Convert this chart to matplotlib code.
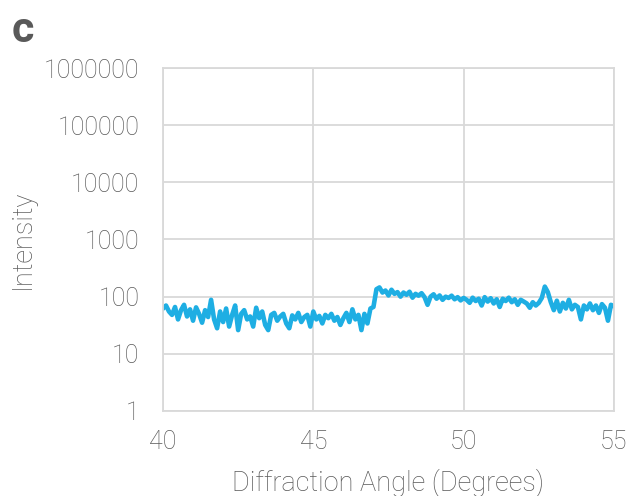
import matplotlib.pyplot as plt
import numpy as np

# diffraction scan (0.1 deg steps)
angle = np.round(np.arange(40.0, 55.05, 0.1), 1)
intensity = [62, 70, 55, 48, 66, 40, 58, 72, 45, 60,
             38, 65, 50, 35, 58, 44, 88, 40, 28, 55,
             36, 62, 30, 48, 70, 26, 50, 58, 40, 45,
             30, 64, 42, 55, 32, 26, 48, 52, 38, 45,
             50, 34, 28, 47, 40, 52, 36, 44, 48, 30,
             55, 40, 46, 34, 48, 42, 50, 38, 44, 32,
             42, 52, 36, 60, 40, 48, 26, 50, 34, 62,
             66, 135, 145, 118, 128, 105, 132, 112, 120, 100,
             118, 108, 122, 96, 112, 104, 115, 98, 72, 100,
             110, 92, 105, 88, 100, 95, 104, 90, 98, 86,
             95, 88, 78, 96, 84, 92, 70, 98, 82, 94,
             76, 90, 66, 92, 84, 96, 80, 90, 72, 88,
             82, 76, 64, 80, 70, 78, 95, 150, 120, 80,
             58, 85, 55, 78, 62, 88, 60, 72, 66, 40,
             70, 60, 76, 58, 70, 52, 74, 64, 38, 72,
             68]

yticks = [1, 10, 100, 1000, 10000, 100000, 1000000]
xticks = [40, 45, 50, 55]

txt_color = '#595959'
grid_color = '#d9d9d9'
line_color = '#1eaee3'

plt.rcParams['font.family'] = ['Roboto', 'DejaVu Sans']

fig = plt.figure(figsize=(6.31, 4.96), dpi=100)
ax = fig.add_axes([0.2583, 0.1714, 0.7147, 0.6915])

ax.plot(angle, intensity, color=line_color, lw=3.3, solid_joinstyle='round')

ax.set_yscale('log')
ax.set_ylim(1, 1000000)
ax.set_xlim(40, 55)
ax.set_yticks(yticks)
ax.set_yticklabels([str(v) for v in yticks])
ax.yaxis.set_minor_locator(plt.NullLocator())
ax.set_xticks(xticks)
ax.set_xticklabels([str(v) for v in xticks])

ax.grid(True, color=grid_color, lw=1.3)
ax.set_axisbelow(True)
for s in ax.spines.values():
    s.set_color(grid_color)
    s.set_linewidth(1.3)
ax.tick_params(axis='y', length=0, labelsize=18, labelcolor=txt_color, pad=17)
ax.tick_params(axis='x', length=0, labelsize=18, labelcolor=txt_color, pad=14)
for lab in ax.get_xticklabels() + ax.get_yticklabels():
    lab.set_fontweight('light')

ax.set_xlabel('Diffraction Angle (Degrees)', fontsize=19.5, color=txt_color, fontweight='light', labelpad=10)
ax.set_ylabel('Intensity', fontsize=19.5, color=txt_color, fontweight='light', labelpad=6)

fig.text(0.018, 0.915, 'c', fontsize=31, fontweight='bold', color=txt_color)

plt.savefig('out.png', dpi=100)
